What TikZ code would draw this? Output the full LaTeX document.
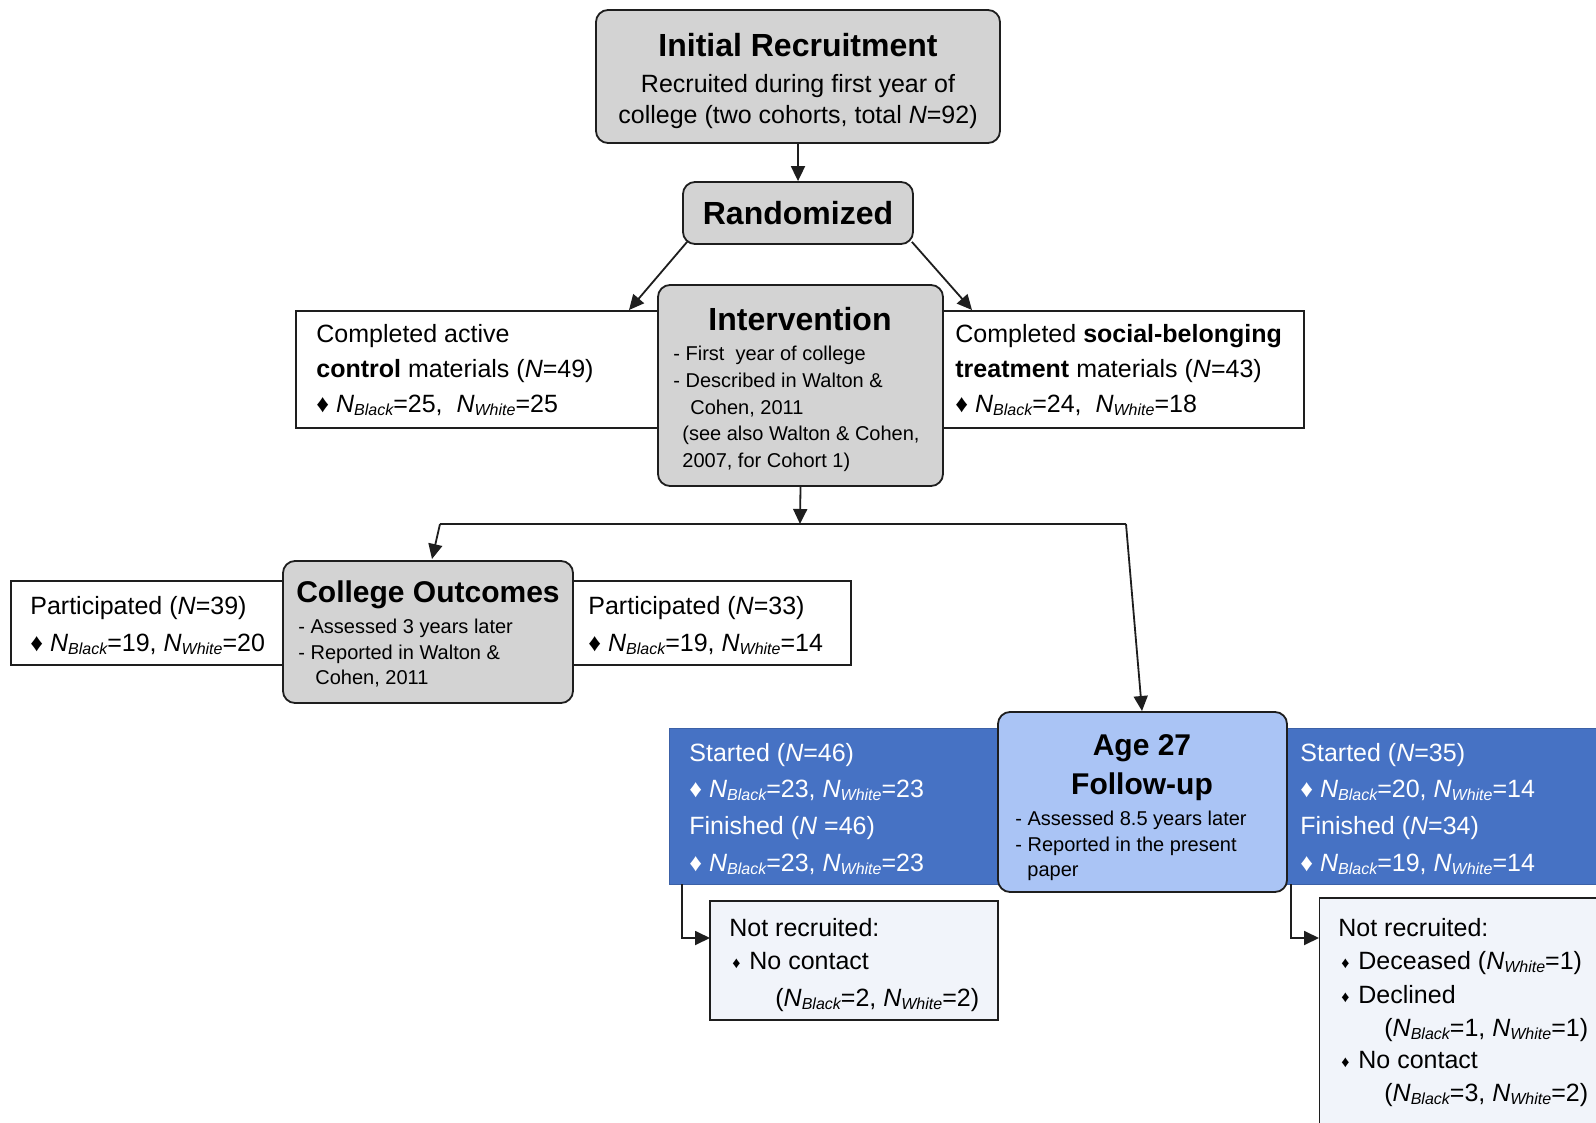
\documentclass[tikz,border=0pt]{standalone}
\usepackage{fontspec}
\usepackage{graphicx}
\setmainfont{Liberation Sans}
\usetikzlibrary{arrows.meta}
\definecolor{linec}{RGB}{30,30,30}
\definecolor{grayf}{RGB}{211,211,211}
\definecolor{bandblue}{RGB}{70,114,196}
\definecolor{agefill}{RGB}{170,196,245}
\definecolor{nrfill}{RGB}{241,244,250}
\newcommand{\fbody}{\fontsize{12.5}{15}\selectfont}
\newcommand{\ftitle}{\fontsize{16}{19}\selectfont\bfseries}
\newcommand{\ftitleb}{\fontsize{15}{18}\selectfont\bfseries}
\newcommand{\fsmall}{\fontsize{10}{12}\selectfont}
\newcommand{\Nsub}[1]{\textit{N}\raisebox{-0.3ex}{\scalebox{0.64}{\itshape #1}}}
\newcommand{\smbul}{\makebox[8.5pt][l]{\raisebox{0.5pt}{\fontsize{8}{8}\selectfont ♦}}}
\begin{document}
\begin{tikzpicture}[x=0.5pt,y=-0.5pt,
  box/.style={draw=linec, line width=0.9pt, inner sep=0pt},
  gbox/.style={box, fill=grayf, rounded corners=6pt},
  wbox/.style={box, fill=white},
  band/.style={fill=bandblue, draw=bandblue!85!black, line width=0.4pt, inner sep=0pt},
  agebox/.style={box, fill=agefill, rounded corners=6pt},
  nrbox/.style={box, fill=nrfill},
  t/.style={anchor=base west, inner sep=0pt, font=\fbody},
  ts/.style={anchor=base west, inner sep=0pt, font=\fsmall},
  tw/.style={t, text=white},
  tc/.style={anchor=base, inner sep=0pt},
  arr/.style={-{Triangle[length=7.5pt,width=7pt]}, line width=0.9pt, draw=linec},
  conn/.style={line width=0.9pt, draw=linec}]
\useasboundingbox (0,0) rectangle (1596,1123);
\fill[white] (0,0) rectangle (1596,1123);
\clip (0,0) rectangle (1596,1123);

% ---------- top ----------
\node[gbox, minimum width=202pt, minimum height=66.5pt] (ir) at (798,76.5) {};
\node[tc, font=\ftitle] (irT) at (798,56.5) {Initial Recruitment};
\node[tc, font=\fbody] (irA) at (798,92.5) {Recruited during first year of};
\node[tc, font=\fbody] (irB) at (798,124) {college (two cohorts, total \textit{N}=92)};

\node[gbox, minimum width=115pt, minimum height=31pt] (rand) at (798,213) {};
\node[tc, font=\ftitle] (randT) at (798,225) {Randomized};

% ---------- arms ----------
\node[wbox, minimum width=182pt, minimum height=58.5pt] (ctrl) at (478,369.5) {};
\node[t] (ctA) at (316,343) {Completed active};
\node[t] (ctB) at (316,377.5) {\textbf{control} materials (\textit{N}=49)};
\node[t] (ctC) at (316,412) {♦ \Nsub{Black}=25,\ \ \Nsub{White}=25};

\node[wbox, minimum width=180.5pt, minimum height=58.5pt] (trt) at (1123.5,369.5) {};
\node[t] (trA) at (955,343) {Completed \textbf{social-belonging}};
\node[t] (trB) at (955,377.5) {\textbf{treatment} materials (\textit{N}=43)};
\node[t] (trC) at (955,412) {♦ \Nsub{Black}=24,\ \ \Nsub{White}=18};

\node[gbox, minimum width=142.5pt, minimum height=100.5pt] (int) at (800.5,385.5) {};
\node[tc, font=\ftitle] (intT) at (800,330) {Intervention};
\node[ts] (inA) at (673,360) {- First\ \ year of college};
\node[ts] (inB) at (673,387) {- Described in Walton \&};
\node[ts] (inC) at (690,414) {Cohen, 2011};
\node[ts] (inD) at (682,440) {(see also Walton \& Cohen,};
\node[ts] (inE) at (682,467) {2007, for Cohort 1)};

% ---------- college outcomes ----------
\node[wbox, minimum width=136.5pt, minimum height=42pt] (pl) at (147.5,623) {};
\node[t] (plA) at (30,614) {Participated (\textit{N}=39)};
\node[t] (plB) at (30,651) {♦ \Nsub{Black}=19, \Nsub{White}=20};

\node[wbox, minimum width=139pt, minimum height=42pt] (pr) at (712,623) {};
\node[t] (prA) at (588,614) {Participated (\textit{N}=33)};
\node[t] (prB) at (588,651) {♦ \Nsub{Black}=19, \Nsub{White}=14};

\node[gbox, minimum width=145pt, minimum height=71pt] (co) at (428,632) {};
\node[tc, font=\ftitleb] (coT) at (428,602.5) {College Outcomes};
\node[ts] (coA) at (298,633) {- Assessed 3 years later};
\node[ts] (coB) at (298,659) {- Reported in Walton \&};
\node[ts] (coC) at (315,684) {Cohen, 2011};

% ---------- age 27 ----------
\node[band, minimum width=164.5pt, minimum height=78pt] (bl) at (833.5,806) {};
\node[tw] (blA) at (689,761) {Started (\textit{N}=46)};
\node[tw] (blB) at (689,797) {♦ \Nsub{Black}=23, \Nsub{White}=23};
\node[tw] (blC) at (689,834) {Finished (\textit{N} =46)};
\node[tw] (blD) at (689,871) {♦ \Nsub{Black}=23, \Nsub{White}=23};

\node[band, minimum width=157pt, minimum height=78pt] (br) at (1444.5,806) {};
\node[tw] (brA) at (1300,761) {Started (\textit{N}=35)};
\node[tw] (brB) at (1300,797) {♦ \Nsub{Black}=20, \Nsub{White}=14};
\node[tw] (brC) at (1300,834) {Finished (\textit{N}=34)};
\node[tw] (brD) at (1300,871) {♦ \Nsub{Black}=19, \Nsub{White}=14};

\node[agebox, minimum width=144.5pt, minimum height=90pt] (age) at (1142.5,802) {};
\node[tc, font=\ftitleb] (agT) at (1142,755) {Age 27};
\node[tc, font=\ftitleb] (agU) at (1142,794) {Follow-up};
\node[ts] (agA) at (1015,825) {- Assessed 8.5 years later};
\node[ts] (agB) at (1015,851) {- Reported in the present};
\node[ts] (agC) at (1027,876) {paper};

% ---------- not recruited ----------
\node[nrbox, minimum width=144pt, minimum height=59.5pt] (nrl) at (854,960.5) {};
\node[t] (nlA) at (729,936) {Not recruited:};
\node[t] (nlB) at (732,969) {\smbul No contact};
\node[t] (nlC) at (775,1006) {(\Nsub{Black}=2, \Nsub{White}=2)};

\node[nrbox, minimum width=141pt, minimum height=116pt] (nrr) at (1460.5,1014) {};
\node[t] (nrA) at (1338,936) {Not recruited:};
\node[t] (nrB) at (1341,969) {\smbul Deceased (\Nsub{White}=1)};
\node[t] (nrC) at (1341,1003) {\smbul Declined};
\node[t] (nrD) at (1384,1036) {(\Nsub{Black}=1, \Nsub{White}=1)};
\node[t] (nrE) at (1341,1068) {\smbul No contact};
\node[t] (nrF) at (1384,1101) {(\Nsub{Black}=3, \Nsub{White}=2)};

% ---------- connectors ----------
\coordinate (ctrlin) at (629,310);
\coordinate (trtin) at (972,310);
\coordinate (jn) at (800,524);
\coordinate (jl) at (440,524);
\coordinate (jr) at (1126,524);
\coordinate (coin) at (432,559);
\coordinate (agein) at (1142,711);
\coordinate (nrlin) at (710,938);
\coordinate (nrrin) at (1319,938);

\draw[arr] (ir) -- (rand);
\draw[arr] ([xshift=2.5pt,yshift=1.5pt]rand.south west) -- (ctrlin);
\draw[arr] ([xshift=-1pt,yshift=1.5pt]rand.south east) -- (trtin);
\draw[arr] (int.south) -- (jn);
\draw[conn] (jl) -- (jr);
\draw[arr] (jl) -- (coin);
\draw[arr] (jr) -- (agein);
\draw[arr] ([xshift=6.5pt]bl.south west) |- (nrlin);
\draw[arr] ([xshift=2pt]br.south west) |- (nrrin);
\end{tikzpicture}
\end{document}
